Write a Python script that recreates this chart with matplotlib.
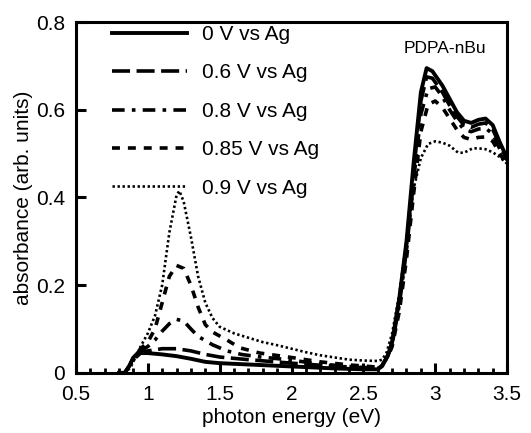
import matplotlib
matplotlib.use("Agg")
import matplotlib.pyplot as plt
from matplotlib.ticker import MultipleLocator, FixedLocator

plt.rcParams['font.family'] = ['Liberation Sans', 'DejaVu Sans']

# photon energy (eV) and absorbance
e_0v = [0.80, 0.84, 0.87, 0.90, 0.93, 1.00, 1.10, 1.20, 1.30, 1.40, 1.50, 1.70, 1.90,
        2.10, 2.30, 2.50, 2.60, 2.63, 2.67, 2.70, 2.75, 2.80, 2.85, 2.90, 2.94, 2.98,
        3.05, 3.10, 3.15, 3.20, 3.25, 3.30, 3.35, 3.40, 3.45, 3.50]
a_0v = [0.0, 0.0, 0.015, 0.035, 0.045, 0.045, 0.042, 0.038, 0.032, 0.025, 0.022, 0.019, 0.016,
        0.013, 0.010, 0.008, 0.008, 0.015, 0.04, 0.07, 0.17, 0.30, 0.48, 0.64, 0.695, 0.688,
        0.655, 0.625, 0.595, 0.575, 0.570, 0.577, 0.580, 0.565, 0.525, 0.490]

e_06v = [0.80, 0.84, 0.87, 0.90, 0.95, 1.00, 1.10, 1.20, 1.30, 1.40, 1.50, 1.70, 2.00,
         2.30, 2.60, 2.63, 2.67, 2.70, 2.75, 2.80, 2.85, 2.90, 2.94, 2.98, 3.05, 3.10,
         3.15, 3.20, 3.25, 3.30, 3.35, 3.40, 3.45, 3.50]
a_06v = [0.0, 0.0, 0.015, 0.03, 0.045, 0.05, 0.055, 0.055, 0.05, 0.042, 0.036, 0.03, 0.022,
         0.015, 0.010, 0.016, 0.04, 0.07, 0.165, 0.29, 0.46, 0.62, 0.675, 0.672, 0.64, 0.61,
         0.585, 0.565, 0.560, 0.567, 0.570, 0.555, 0.52, 0.485]

e_08v = [0.80, 0.84, 0.87, 0.90, 0.95, 1.00, 1.05, 1.10, 1.15, 1.20, 1.25, 1.30, 1.35,
         1.45, 1.55, 1.65, 1.76, 1.97, 2.20, 2.50, 2.60, 2.63, 2.67, 2.70, 2.75, 2.80,
         2.85, 2.90, 2.95, 3.00, 3.05, 3.10, 3.15, 3.20, 3.25, 3.30, 3.35, 3.40, 3.45, 3.50]
a_08v = [0.0, 0.0, 0.015, 0.03, 0.05, 0.06, 0.075, 0.095, 0.112, 0.122, 0.118, 0.10, 0.083,
         0.064, 0.050, 0.042, 0.037, 0.030, 0.020, 0.012, 0.011, 0.016, 0.038, 0.065, 0.155, 0.28,
         0.44, 0.59, 0.648, 0.652, 0.630, 0.600, 0.575, 0.555, 0.550, 0.556, 0.558, 0.545, 0.51, 0.478]

e_085v = [0.80, 0.84, 0.87, 0.90, 0.95, 1.00, 1.05, 1.10, 1.15, 1.20, 1.25, 1.30, 1.35,
          1.40, 1.45, 1.55, 1.64, 1.78, 2.00, 2.20, 2.40, 2.60, 2.63, 2.67, 2.70, 2.75,
          2.80, 2.85, 2.90, 2.95, 3.00, 3.05, 3.10, 3.15, 3.20, 3.25, 3.30, 3.35, 3.40, 3.45, 3.50]
a_085v = [0.0, 0.0, 0.015, 0.035, 0.055, 0.07, 0.10, 0.16, 0.22, 0.245, 0.238, 0.20, 0.15,
          0.11, 0.093, 0.075, 0.057, 0.045, 0.035, 0.025, 0.018, 0.013, 0.018, 0.036, 0.06, 0.14,
          0.26, 0.41, 0.55, 0.612, 0.620, 0.605, 0.580, 0.555, 0.537, 0.532, 0.537, 0.538, 0.528, 0.50, 0.472]

e_09v = [0.80, 0.84, 0.88, 0.92, 0.95, 1.00, 1.05, 1.10, 1.15, 1.20, 1.22, 1.25, 1.30,
         1.35, 1.40, 1.45, 1.50, 1.60, 1.70, 1.80, 1.90, 2.00, 2.10, 2.20, 2.30, 2.40,
         2.50, 2.60, 2.63, 2.66, 2.70, 2.75, 2.80, 2.85, 2.90, 2.95, 3.00, 3.05, 3.10,
         3.16, 3.20, 3.26, 3.30, 3.35, 3.40, 3.45, 3.50]
a_09v = [0.0, 0.0, 0.012, 0.04, 0.06, 0.09, 0.13, 0.20, 0.32, 0.405, 0.415, 0.39, 0.31,
         0.22, 0.16, 0.125, 0.105, 0.09, 0.08, 0.07, 0.063, 0.055, 0.047, 0.040, 0.035, 0.030,
         0.028, 0.027, 0.030, 0.045, 0.09, 0.18, 0.30, 0.42, 0.49, 0.522, 0.528, 0.525, 0.518,
         0.502, 0.502, 0.512, 0.512, 0.510, 0.503, 0.492, 0.477]

labels = ['0 V vs Ag', '0.6 V vs Ag', '0.8 V vs Ag', '0.85 V vs Ag', '0.9 V vs Ag']
x_ticks = [0.5, 1, 1.5, 2, 2.5, 3, 3.5]
x_ticklabels = ['0.5', '1', '1.5', '2', '2.5', '3', '3.5']
y_ticks = [0, 0.2, 0.4, 0.6, 0.8]
y_ticklabels = ['0', '0.2', '0.4', '0.6', '0.8']

fig = plt.figure(figsize=(5.31, 4.33), dpi=100)
ax = fig.add_axes([0.143, 0.139, 0.812, 0.810])

ax.plot(e_0v, a_0v, color='black', lw=2.8, ls='-', label=labels[0])
ax.plot(e_06v, a_06v, color='black', lw=2.6, ls=(0, (5, 1.8)), label=labels[1])
ax.plot(e_08v, a_08v, color='black', lw=2.6, ls=(0, (3.5, 2.0, 1.0, 2.0)), label=labels[2])
ax.plot(e_085v, a_085v, color='black', lw=2.6, ls=(0, (2.2, 2.2)), label=labels[3])
ax.plot(e_09v, a_09v, color='black', lw=1.9, ls=(0, (0.9, 1.0)), label=labels[4])

ax.set_xlim(0.5, 3.5)
ax.set_ylim(0, 0.8)
ax.xaxis.set_major_locator(FixedLocator(x_ticks))
ax.set_xticklabels(x_ticklabels)
ax.xaxis.set_minor_locator(MultipleLocator(0.1))
ax.yaxis.set_major_locator(FixedLocator(y_ticks))
ax.set_yticklabels(y_ticklabels)

for s in ax.spines.values():
    s.set_linewidth(2.2)
ax.tick_params(which='major', direction='in', length=7, width=2.2, labelsize=15)
ax.tick_params(axis='x', which='major', pad=9)
ax.tick_params(axis='y', which='major', pad=8)
ax.tick_params(which='minor', direction='in', length=3.5, width=2.0)
ax.tick_params(axis='y', which='minor', left=False)

ax.set_xlabel('photon energy (eV)', fontsize=15, labelpad=3)
ax.set_ylabel('absorbance (arb. units)', fontsize=15, labelpad=2)

ax.text(0.855, 0.925, 'PDPA-nBu', transform=ax.transAxes, fontsize=12.5, ha='center', va='center')

leg = ax.legend(loc='upper left', frameon=False, fontsize=15, handlelength=3.6,
                handletextpad=0.7, labelspacing=0.93, bbox_to_anchor=(0.04, 1.045))

fig.savefig('out.png', dpi=100)
